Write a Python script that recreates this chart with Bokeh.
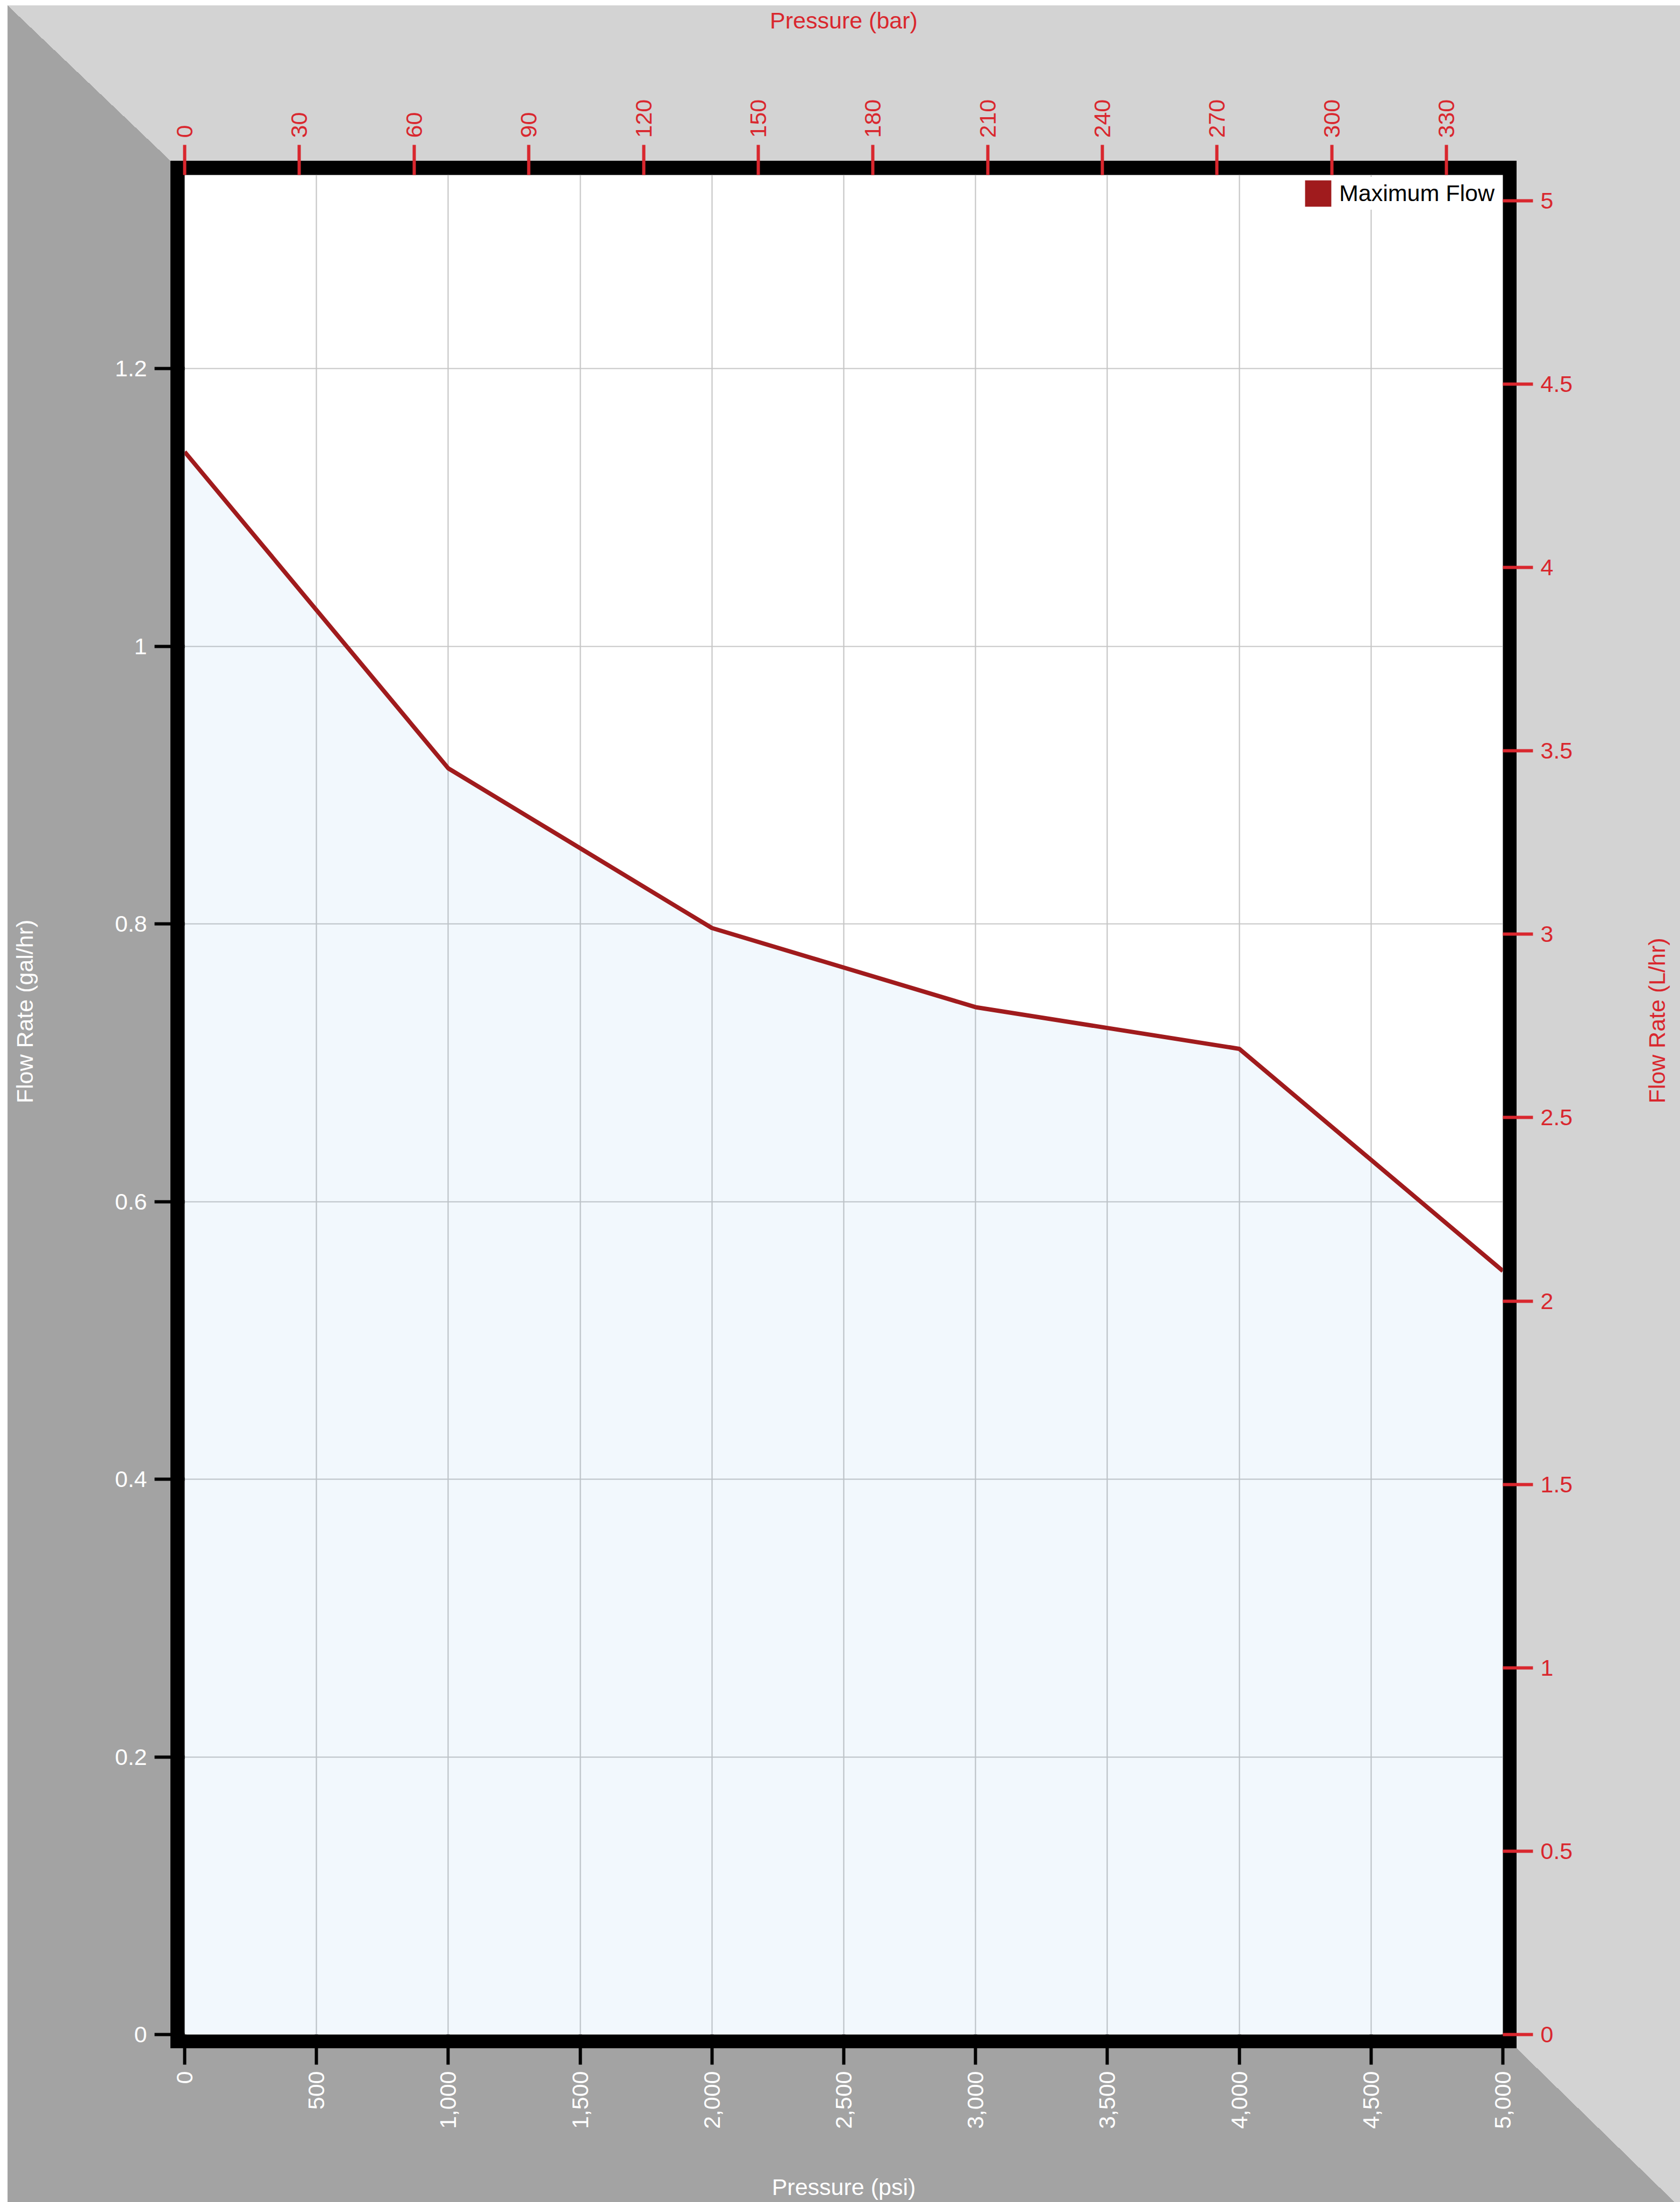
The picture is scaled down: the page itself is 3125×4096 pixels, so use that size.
import math
from bokeh.plotting import figure
from bokeh.models import (Range1d, LinearAxis, FixedTicker, NumeralTickFormatter,
                          Legend, LegendItem, Label, ColumnDataSource)
from bokeh.core.enums import CoordinateUnits
from bokeh.embed import file_html
from bokeh.resources import INLINE

# ---------------- data ----------------
pressure_psi = [0, 1000, 2000, 3000, 4000, 5000]
max_flow_gph = [1.14, 0.912, 0.797, 0.740, 0.710, 0.550]

psi_ticks = [0, 500, 1000, 1500, 2000, 2500, 3000, 3500, 4000, 4500, 5000]
bar_ticks = [0, 30, 60, 90, 120, 150, 180, 210, 240, 270, 300, 330]
gph_ticks = [0, 0.2, 0.4, 0.6, 0.8, 1.0, 1.2]
lph_ticks = [0, 0.5, 1, 1.5, 2, 2.5, 3, 3.5, 4, 4.5, 5]

series_name = "Maximum Flow"
x_title_psi = "Pressure (psi)"
x_title_bar = "Pressure (bar)"
y_title_gph = "Flow Rate (gal/hr)"
y_title_lph = "Flow Rate (L/hr)"

PSI_MAX = 5000
GPH_MAX = 1.3394
PSI_PER_BAR = 14.5038
L_PER_GAL = 3.78541

# ---------------- style ----------------
FONT = "Liberation Sans"
FS = "43px"
LINE_COLOR = "#a01b1d"
RED = "#d9272e"
WHITE = "#ffffff"
DARK = "#a3a3a3"
LIGHT = "#d3d3d3"
GRID = "#c6c6c6"

W, H = 3125, 4096
FL, FT, FR, FB = 343, 325, 2795, 3784      # plot frame (inner white area)
BW = 26                                   # black frame ring
GX, GY = 14, 10                           # white margin before the grey bevel

src = ColumnDataSource(data=dict(psi=pressure_psi, gph=max_flow_gph))

p = figure(width=W, height=H, output_backend="svg", toolbar_location=None,
           x_range=Range1d(0, PSI_MAX), y_range=Range1d(0, GPH_MAX),
           min_border_left=FL, min_border_top=FT,
           min_border_right=W - FR, min_border_bottom=H - FB)
p.extra_x_ranges = {"bar": Range1d(0, PSI_MAX / PSI_PER_BAR)}
p.extra_y_ranges = {"lph": Range1d(0, GPH_MAX * L_PER_GAL)}

p.border_fill_color = None
p.background_fill_color = "white"
p.outline_line_color = None

# background of the whole figure (bevelled grey border + black frame ring)
ox0, oy0 = FL - BW, FT - BW
ox1, oy1 = FR + BW, FB + BW
diag = f"linear-gradient(to top right, {DARK} 50%, {LIGHT} 50%)"
solid_dark = f"linear-gradient({DARK}, {DARK})"
solid_light = f"linear-gradient({LIGHT}, {LIGHT})"
black = "linear-gradient(#000000, #000000)"
layers = [
    (black, (ox0, oy0), (ox1 - ox0, oy1 - oy0)),
    (diag, (GX, GY), (ox0 - GX, oy0 - GY)),
    (diag, (ox1, oy1), (W - ox1, H - oy1 + 10)),
    (solid_dark, (GX, oy0), (ox0 - GX, H - oy0)),
    (solid_dark, (GX, oy1), (ox1 - GX, H - oy1)),
    (solid_light, (GX, GY), (W - GX, H - GY)),
]
p.styles = {
    "background-color": "#ffffff",
    "background-image": ", ".join(l[0] for l in layers),
    "background-position": ", ".join(f"{l[1][0]}px {l[1][1]}px" for l in layers),
    "background-size": ", ".join(f"{l[2][0]}px {l[2][1]}px" for l in layers),
    "background-repeat": "no-repeat",
}

# grids
p.xgrid.ticker = FixedTicker(ticks=psi_ticks)
p.ygrid.ticker = FixedTicker(ticks=gph_ticks)
for g in (p.xgrid[0], p.ygrid[0]):
    g.grid_line_color = GRID
    g.grid_line_width = 2.2


def style_axis(ax, color, tick_color, standoff):
    ax.axis_line_color = None
    ax.major_tick_line_color = tick_color
    ax.major_tick_line_width = 6
    ax.major_tick_out = 56
    ax.major_tick_in = 0
    ax.minor_tick_line_color = None
    ax.major_label_text_color = color
    ax.major_label_text_font = FONT
    ax.major_label_text_font_size = FS
    ax.major_label_standoff = standoff
    ax.axis_label_text_color = color
    ax.axis_label_text_font = FONT
    ax.axis_label_text_font_size = FS
    ax.axis_label_text_font_style = "normal"


# bottom axis (psi)
xb = p.xaxis[0]
xb.ticker = FixedTicker(ticks=psi_ticks)
xb.formatter = NumeralTickFormatter(format="0,0")
xb.major_label_orientation = math.pi / 2
style_axis(xb, WHITE, "black", 12)

# left axis (gal/hr)
yl = p.yaxis[0]
yl.ticker = FixedTicker(ticks=gph_ticks)
yl.formatter = NumeralTickFormatter(format="0.[0]")
style_axis(yl, WHITE, "black", 14)

# top axis (bar)
xt = LinearAxis(x_range_name="bar", ticker=FixedTicker(ticks=bar_ticks),
                axis_label=x_title_bar, major_label_orientation="vertical",
                axis_label_standoff=120)
style_axis(xt, RED, RED, 13)
p.add_layout(xt, "above")

# right axis (L/hr)
yr = LinearAxis(y_range_name="lph", ticker=FixedTicker(ticks=lph_ticks),
                formatter=NumeralTickFormatter(format="0.[0]"))
style_axis(yr, RED, RED, 14)
p.add_layout(yr, "right")

# axis titles placed in the side panels (absolute canvas position)
units = "canvas" if "canvas" in CoordinateUnits else "screen"
p.add_layout(Label(x=45, y=1881, x_units=units, y_units=units,
                   text=y_title_gph, angle=math.pi / 2, text_align="center",
                   text_baseline="middle", text_color=WHITE, text_font=FONT,
                   text_font_size=FS), "left")
p.add_layout(Label(x=3081, y=1898, x_units=units, y_units=units,
                   text=y_title_lph, angle=math.pi / 2, text_align="center",
                   text_baseline="middle", text_color=RED, text_font=FONT,
                   text_font_size=FS), "right")
p.add_layout(Label(x=(FL + FR) / 2, y=4067, x_units=units, y_units=units,
                   text=x_title_psi, text_align="center",
                   text_baseline="middle", text_color=WHITE, text_font=FONT,
                   text_font_size=FS), "below")

# data
p.varea(x="psi", y1=0, y2="gph", source=src, fill_color="#3d8fe0", fill_alpha=0.065)
p.line(x="psi", y="gph", source=src, line_color=LINE_COLOR, line_width=8,
       line_join="round")

# legend swatch: zero-height area along the same series (invisible in the plot)
swatch = p.varea(x="psi", y1="gph", y2="gph", source=src, fill_color=LINE_COLOR)
legend = Legend(items=[LegendItem(label=series_name, renderers=[swatch])],
                location="top_right", glyph_width=61, glyph_height=61,
                label_standoff=9, label_width=300, padding=4, margin=4,
                label_text_font=FONT, label_text_font_size=FS,
                label_text_color="black", background_fill_color="white",
                background_fill_alpha=1.0, border_line_color=None)
p.add_layout(legend, "center")

open("out.html", "w").write(file_html(p, INLINE))
